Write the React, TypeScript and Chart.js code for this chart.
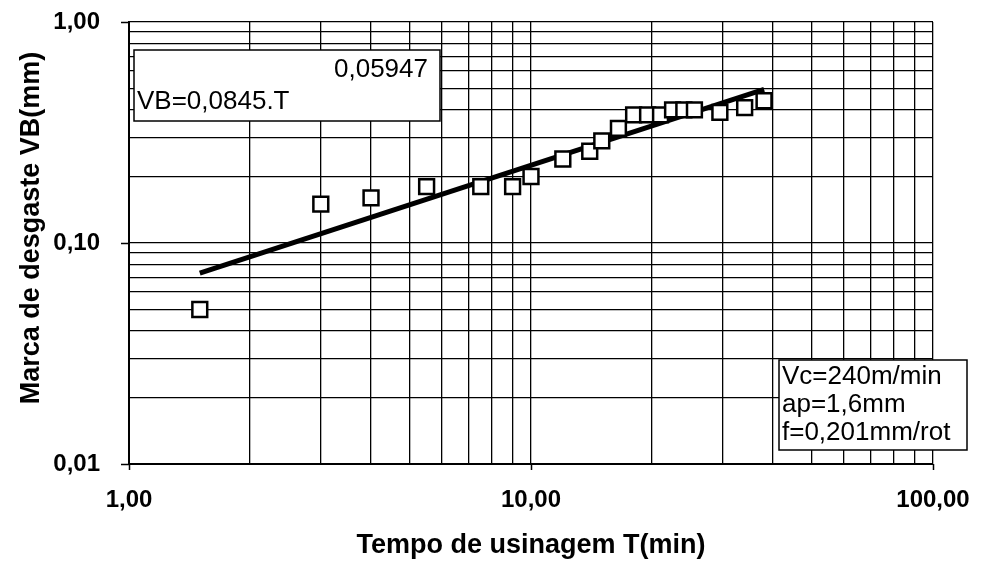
import React, { useEffect, useRef } from 'react';
import { Chart, registerables } from 'chart.js';

Chart.register(...registerables);

// ---- data ----
const timeMin = [1.5, 3, 4, 5.5, 7.5, 9, 10, 12, 14, 15, 16.5, 18, 19.5, 21, 22.5, 24, 25.5, 29.5, 34, 38];
const wearVB = [0.05, 0.15, 0.16, 0.18, 0.18, 0.18, 0.2, 0.24, 0.26, 0.29, 0.33, 0.38, 0.38, 0.38, 0.4, 0.4, 0.4, 0.39, 0.41, 0.44];
const trendT = [1.5, 38];
const trendVB = [0.073, 0.495];

const xTickValues = [1, 10, 100];
const xTickLabels = ['1,00', '10,00', '100,00'];
const yTickValues = [0.01, 0.1, 1];
const yTickLabels = ['0,01', '0,10', '1,00'];
const gridMultipliers = [1, 2, 3, 4, 5, 6, 7, 8, 9];

const xTitle = 'Tempo de usinagem T(min)';
const yTitle = 'Marca de desgaste VB(mm)';
const eqExponent = '0,05947';
const eqText = 'VB=0,0845.T';
const condLines = ['Vc=240m/min', 'ap=1,6mm', 'f=0,201mm/rot'];

const FONT = '"Liberation Sans", Arial, Helvetica, sans-serif';

function gridValues(decades: number[]): number[] {
  const out: number[] = [];
  for (let i = 0; i < decades.length - 1; i++) {
    for (const m of gridMultipliers) out.push(m * decades[i]);
  }
  out.push(decades[decades.length - 1]);
  return out;
}

function findIdx(vals: number[], v: number): number {
  return vals.findIndex((t) => Math.abs(t - v) / t < 1e-6);
}

const boxesPlugin = {
  id: 'textBoxes',
  afterDatasetsDraw(chart: any) {
    const ctx = chart.ctx as CanvasRenderingContext2D;
    const a = chart.chartArea;
    const xs = chart.scales.x;
    const ys = chart.scales.y;
    ctx.save();

    // decade tick marks
    ctx.strokeStyle = '#000';
    ctx.lineWidth = 1.5;
    ctx.beginPath();
    xTickValues.forEach((v) => {
      const px = Math.round(xs.getPixelForValue(v)) + 0.5;
      ctx.moveTo(px, a.bottom);
      ctx.lineTo(px, a.bottom + 6);
    });
    yTickValues.forEach((v) => {
      const py = Math.round(ys.getPixelForValue(v)) + 0.5;
      ctx.moveTo(a.left - 8, py);
      ctx.lineTo(a.left, py);
    });
    ctx.stroke();

    ctx.font = `26px ${FONT}`;
    ctx.lineWidth = 1.5;
    ctx.textBaseline = 'middle';

    // equation box
    const b1 = { x: a.left + 5, y: a.top + 28, w: 306, h: 71 };
    ctx.fillStyle = '#fff';
    ctx.fillRect(b1.x, b1.y, b1.w, b1.h);
    ctx.strokeStyle = '#000';
    ctx.strokeRect(b1.x, b1.y, b1.w, b1.h);
    ctx.fillStyle = '#000';
    ctx.textAlign = 'right';
    ctx.fillText(eqExponent, b1.x + b1.w - 12, b1.y + 20);
    ctx.textAlign = 'left';
    ctx.fillText(eqText, b1.x + 3, b1.y + 52);

    // conditions box
    const b2 = { x: a.right - 154, y: a.bottom - 104, w: 188, h: 90 };
    ctx.fillStyle = '#fff';
    ctx.fillRect(b2.x, b2.y, b2.w, b2.h);
    ctx.strokeStyle = '#000';
    ctx.strokeRect(b2.x, b2.y, b2.w, b2.h);
    ctx.fillStyle = '#000';
    ctx.textAlign = 'left';
    condLines.forEach((t, i) => {
      ctx.fillText(t, b2.x + 3, b2.y + 17 + i * 28);
    });

    // y axis title
    ctx.font = `bold 27px ${FONT}`;
    ctx.textAlign = 'center';
    ctx.translate(32, a.top + 206);
    ctx.rotate(-Math.PI / 2);
    ctx.fillText(yTitle, 0, 0);
    ctx.restore();
  },
};

export default function App() {
  const ref = useRef<HTMLCanvasElement | null>(null);

  useEffect(() => {
    if (!ref.current) return;
    const xGrid = gridValues(xTickValues);
    const yGrid = gridValues(yTickValues);

    const chart = new Chart(ref.current, {
      type: 'scatter',
      data: {
        datasets: [
          {
            type: 'scatter',
            label: 'VB',
            data: timeMin.map((t, i) => ({ x: t, y: wearVB[i] })),
            pointStyle: 'rect',
            pointRadius: 10.5,
            pointHoverRadius: 10.5,
            backgroundColor: '#fff',
            borderColor: '#000',
            borderWidth: 2.5,
            order: 1,
          },
          {
            type: 'line',
            label: 'trend',
            data: trendT.map((t, i) => ({ x: t, y: trendVB[i] })),
            borderColor: '#000',
            borderWidth: 5,
            pointRadius: 0,
            fill: false,
            order: 2,
          },
        ],
      } as any,
      options: {
        responsive: false,
        animation: false,
        devicePixelRatio: 1,
        layout: { padding: { top: 22, right: 48, bottom: 0, left: 0 } },
        plugins: {
          legend: { display: false },
          tooltip: { enabled: false },
        },
        scales: {
          x: {
            type: 'logarithmic',
            min: 1,
            max: 100,
            position: 'bottom',
            afterBuildTicks: (scale: any) => {
              scale.ticks = xGrid.map((v) => ({ value: v }));
            },
            afterFit: (scale: any) => {
              scale.height = 98;
            },
            ticks: {
              autoSkip: false,
              maxRotation: 0,
              padding: 0,
              color: '#000',
              font: { family: FONT, size: 24, weight: 'bold' },
              callback: (value: any) => {
                const i = findIdx(xTickValues, Number(value));
                return i >= 0 ? xTickLabels[i] : '';
              },
            },
            grid: {
              color: '#000',
              lineWidth: 1.3,
              drawTicks: true,
              tickLength: 22,
              tickColor: 'rgba(0,0,0,0)',
            },
            border: { display: true, color: '#000', width: 2 },
            title: {
              display: true,
              text: xTitle,
              color: '#000',
              font: { family: FONT, size: 27, weight: 'bold' },
              padding: { top: 0, bottom: 0 },
            },
          },
          y: {
            type: 'logarithmic',
            min: 0.01,
            max: 1,
            position: 'left',
            afterBuildTicks: (scale: any) => {
              scale.ticks = yGrid.map((v) => ({ value: v }));
            },
            afterFit: (scale: any) => {
              scale.width = 129;
            },
            ticks: {
              autoSkip: false,
              padding: 0,
              color: '#000',
              font: { family: FONT, size: 24, weight: 'bold' },
              callback: (value: any) => {
                const i = findIdx(yTickValues, Number(value));
                return i >= 0 ? yTickLabels[i] : '';
              },
            },
            grid: {
              color: '#000',
              lineWidth: 1.3,
              drawTicks: true,
              tickLength: 29,
              tickColor: 'rgba(0,0,0,0)',
            },
            border: { display: true, color: '#000', width: 2 },
            title: { display: false },
          },
        },
      } as any,
      plugins: [boxesPlugin],
    });
    return () => chart.destroy();
  }, []);

  return (
    <div style={{ position: 'absolute', left: 0, top: 0, width: 981, height: 562, background: '#fff' }}>
      <canvas ref={ref} width={981} height={562} style={{ display: 'block' }} />
    </div>
  );
}
